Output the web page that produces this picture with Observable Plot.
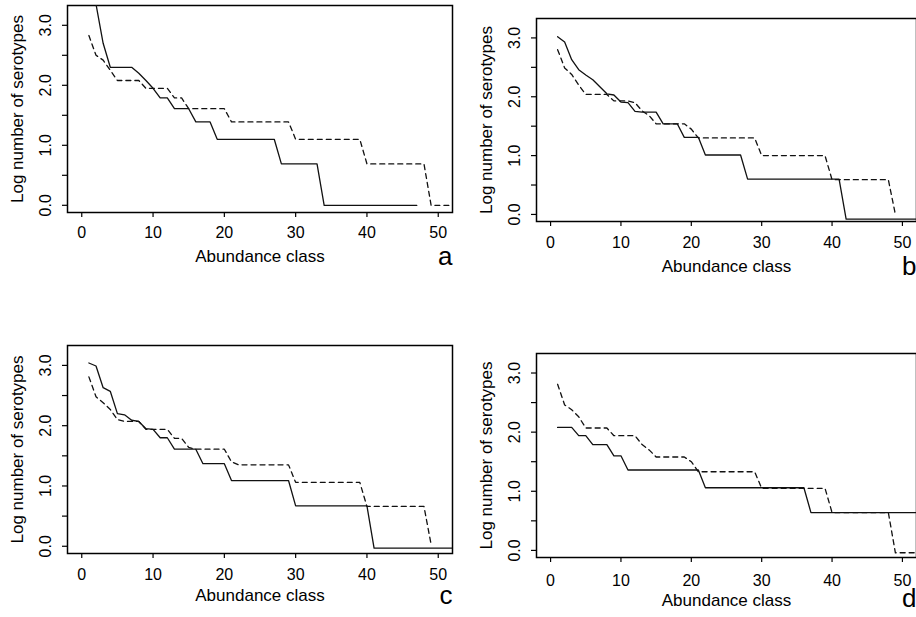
<!DOCTYPE html>
<html>
<head>
<meta charset="utf-8">
<script src="https://cdn.jsdelivr.net/npm/d3@7"></script>
<script src="https://cdn.jsdelivr.net/npm/@observablehq/plot@0.6"></script>
<style>
html, body { margin: 0; padding: 0; background: #fff; }
#wrap { position: relative; width: 916px; height: 617px; overflow: hidden; background: #fff;
        font-family: "Liberation Sans", Arial, Helvetica, sans-serif; }
#wrap > div { position: absolute; }
svg { display: block; overflow: hidden; }
</style>
</head>
<body>
<div id="wrap"></div>
<script>
// ---- axis text ----
const xTicks = [0, 10, 20, 30, 40, 50];
const yTicks = [0, 0.5, 1, 1.5, 2, 2.5, 3];
const yTickLabels = [0, 1, 2, 3];
const xTitle = "Abundance class";
const yTitle = "Log number of serotypes";
const panelLetters = ["a", "b", "c", "d"];

// ---- series: log number of serotypes at abundance class 1, 2, 3, ... ----
const aSolid = [
  4.0, 3.35, 2.7, 2.30, 2.30, 2.30, 2.30, 2.20, 2.08, 1.95,
  1.79, 1.79, 1.61, 1.61, 1.61, 1.39, 1.39, 1.39, 1.10, 1.10,
  1.10, 1.10, 1.10, 1.10, 1.10, 1.10, 1.10, 0.69, 0.69, 0.69,
  0.69, 0.69, 0.69, 0, 0, 0, 0, 0, 0, 0,
  0, 0, 0, 0, 0, 0, 0
];
const aDashed = [
  2.83, 2.50, 2.42, 2.25, 2.08, 2.08, 2.08, 2.08, 1.95, 1.95,
  1.95, 1.95, 1.79, 1.79, 1.61, 1.61, 1.61, 1.61, 1.61, 1.61,
  1.39, 1.39, 1.39, 1.39, 1.39, 1.39, 1.39, 1.39, 1.39, 1.10,
  1.10, 1.10, 1.10, 1.10, 1.10, 1.10, 1.10, 1.10, 1.10, 0.69,
  0.69, 0.69, 0.69, 0.69, 0.69, 0.69, 0.69, 0.69, 0, 0,
  0, 0
];
const bSolid = [
  3.02, 2.93, 2.63, 2.46, 2.37, 2.29, 2.17, 2.05, 2.03, 1.91,
  1.90, 1.75, 1.74, 1.74, 1.74, 1.54, 1.54, 1.54, 1.31, 1.31,
  1.31, 1.01, 1.01, 1.01, 1.01, 1.01, 1.01, 0.60, 0.60, 0.60,
  0.60, 0.60, 0.60, 0.60, 0.60, 0.60, 0.60, 0.60, 0.60, 0.60,
  0.60, -0.08, -0.08, -0.08, -0.08, -0.08, -0.08, -0.08, -0.08, -0.08,
  -0.08, -0.08, -0.08
];
const bDashed = [
  2.80, 2.49, 2.38, 2.20, 2.04, 2.04, 2.04, 2.04, 1.93, 1.93,
  1.93, 1.90, 1.76, 1.68, 1.54, 1.54, 1.54, 1.54, 1.54, 1.45,
  1.30, 1.30, 1.30, 1.30, 1.30, 1.30, 1.30, 1.30, 1.30, 1.00,
  1.00, 1.00, 1.00, 1.00, 1.00, 1.00, 1.00, 1.00, 1.00, 0.59,
  0.59, 0.59, 0.59, 0.59, 0.59, 0.59, 0.59, 0.59, 0
];
const cSolid = [
  3.04, 2.99, 2.63, 2.57, 2.20, 2.18, 2.09, 2.07, 1.95, 1.94,
  1.80, 1.80, 1.61, 1.61, 1.61, 1.61, 1.37, 1.37, 1.37, 1.37,
  1.09, 1.09, 1.09, 1.09, 1.09, 1.09, 1.09, 1.09, 1.09, 0.67,
  0.67, 0.67, 0.67, 0.67, 0.67, 0.67, 0.67, 0.67, 0.67, 0.67,
  -0.03, -0.03, -0.03, -0.03, -0.03, -0.03, -0.03, -0.03, -0.03, -0.03,
  -0.03, -0.03
];
const cDashed = [
  2.81, 2.48, 2.38, 2.27, 2.10, 2.07, 2.07, 2.07, 1.94, 1.94,
  1.94, 1.94, 1.79, 1.79, 1.64, 1.61, 1.61, 1.61, 1.61, 1.61,
  1.40, 1.35, 1.35, 1.35, 1.35, 1.35, 1.35, 1.35, 1.35, 1.06,
  1.06, 1.06, 1.06, 1.06, 1.06, 1.06, 1.06, 1.06, 1.06, 0.66,
  0.66, 0.66, 0.66, 0.66, 0.66, 0.66, 0.66, 0.66, 0.03
];
const dSolid = [
  2.08, 2.08, 2.08, 1.94, 1.94, 1.79, 1.79, 1.79, 1.60, 1.60,
  1.36, 1.36, 1.36, 1.36, 1.36, 1.36, 1.36, 1.36, 1.36, 1.36,
  1.36, 1.06, 1.06, 1.06, 1.06, 1.06, 1.06, 1.06, 1.06, 1.06,
  1.06, 1.06, 1.06, 1.06, 1.06, 1.06, 0.64, 0.64, 0.64, 0.64,
  0.64, 0.64, 0.64, 0.64, 0.64, 0.64, 0.64, 0.64, 0.64, 0.64,
  0.64, 0.64, 0.64
];
const dDashed = [
  2.81, 2.46, 2.38, 2.26, 2.07, 2.07, 2.07, 2.07, 1.94, 1.94,
  1.94, 1.94, 1.79, 1.70, 1.58, 1.58, 1.58, 1.58, 1.58, 1.50,
  1.33, 1.33, 1.33, 1.33, 1.33, 1.33, 1.33, 1.33, 1.33, 1.05,
  1.05, 1.05, 1.05, 1.05, 1.05, 1.05, 1.05, 1.05, 1.05, 0.64,
  0.64, 0.64, 0.64, 0.64, 0.64, 0.64, 0.64, 0.64, -0.04, -0.04,
  -0.04, -0.04, -0.04
];

function toRows(vals) { return vals.map((v, i) => ({ cls: i + 1, logn: v })); }

const panels = [
  { solid: aSolid, dashed: aDashed, letter: panelLetters[0], left: 0,   top: 0,   w: 458, h: 300,
    mt: 5,  mb: 88, ml: 67, mr: 6, tickPad: 9,  titleDy: 49,   letterDy: 52 },
  { solid: bSolid, dashed: bDashed, letter: panelLetters[1], left: 458, top: 0,   w: 458, h: 300,
    mt: 18, mb: 79, ml: 78, mr: 0, tickPad: 10, titleDy: 50.5, letterDy: 53 },
  { solid: cSolid, dashed: cDashed, letter: panelLetters[2], left: 0,   top: 300, w: 458, h: 317,
    mt: 45, mb: 64, ml: 67, mr: 6, tickPad: 10, titleDy: 47,   letterDy: 50 },
  { solid: dSolid, dashed: dDashed, letter: panelLetters[3], left: 458, top: 300, w: 458, h: 317,
    mt: 53, mb: 60, ml: 78, mr: 0, tickPad: 12, titleDy: 48.5, letterDy: 49 }
];

const wrap = document.getElementById("wrap");
for (const p of panels) {
  const chart = Plot.plot({
    width: p.w,
    height: p.h,
    marginTop: p.mt,
    marginBottom: p.mb,
    marginLeft: p.ml,
    marginRight: p.mr,
    style: { fontFamily: '"Liberation Sans", Arial, Helvetica, sans-serif', color: "#000", background: "#fff", fontSize: "16px" },
    x: { domain: [-2, 52] },
    y: { domain: [-0.12, 3.33] },
    marks: [
      Plot.frame({ stroke: "#000", strokeWidth: 1.5 }),
      Plot.axisX({ ticks: xTicks, tickSize: 5, tickPadding: p.tickPad, fontSize: 16, label: null, strokeWidth: 1.2 }),
      Plot.axisY({ ticks: yTicks, tickSize: 5, tickFormat: () => "", label: null, strokeWidth: 1.2 }),
      Plot.text(yTickLabels, { y: d => d, text: d => d.toFixed(1), frameAnchor: "left", textAnchor: "middle", dx: -22, rotate: -90, fontSize: 16 }),
      Plot.text([yTitle], { text: d => d, frameAnchor: "left", textAnchor: "middle", dx: -50, rotate: -90, fontSize: 17 }),
      Plot.text([xTitle], { text: d => d, frameAnchor: "bottom", textAnchor: "middle", dy: p.titleDy, fontSize: 17 }),
      Plot.text([p.letter], { text: d => d, frameAnchor: "bottom-right", dy: p.letterDy, textAnchor: "end", fontSize: 26 }),
      Plot.line(toRows(p.solid), { x: "cls", y: "logn", stroke: "#111", strokeWidth: 1.3, clip: true }),
      Plot.line(toRows(p.dashed), { x: "cls", y: "logn", stroke: "#111", strokeWidth: 1.3, strokeDasharray: "5,4", clip: true })
    ]
  });
  const holder = document.createElement("div");
  holder.style.left = p.left + "px";
  holder.style.top = p.top + "px";
  holder.appendChild(chart);
  wrap.appendChild(holder);
}
</script>
</body>
</html>
